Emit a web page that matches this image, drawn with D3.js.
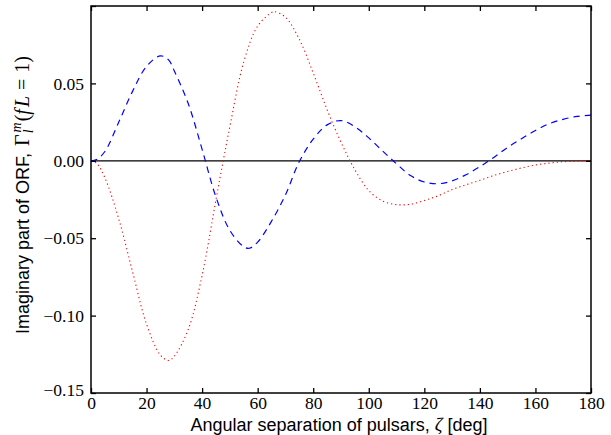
<!DOCTYPE html>
<html>
<head>
<meta charset="utf-8">
<script src="https://cdn.jsdelivr.net/npm/d3@7/dist/d3.min.js"></script>
<style>
  html, body { margin: 0; padding: 0; background: #fff; }
  svg { display: block; }
</style>
</head>
<body>
<svg id="chart" width="611" height="435"></svg>
<script>
// ---- data ----
const xTicks = [0, 20, 40, 60, 80, 100, 120, 140, 160, 180];
const yTicks = [-0.15, -0.10, -0.05, 0.00, 0.05, 0.10];
const yTickLabels = ["\u22120.15", "\u22120.10", "\u22120.05", "0.00", "0.05", ""];

const blueAngles = [0, 2, 5, 10, 15, 20, 25, 28, 30, 35, 40, 45, 50, 55, 57, 60, 65, 70, 75, 80, 85, 90,
  95, 100, 105, 110, 115, 120, 125, 130, 135, 140, 145, 150, 155, 160, 165, 170, 175, 180];
const blueValues = [0, 0.0008, 0.006, 0.025, 0.045, 0.061, 0.0678, 0.065, 0.058, 0.037, 0.0074, -0.0235,
  -0.045, -0.0555, -0.0565, -0.0525, -0.039, -0.022, -0.0005, 0.014, 0.0232, 0.026,
  0.022, 0.0148, 0.0063, -0.002, -0.0095, -0.0137, -0.0148, -0.013, -0.009, -0.0038, 0.0022,
  0.0087, 0.0143, 0.0196, 0.024, 0.0268, 0.0287, 0.0295];

const redAngles = [0, 2, 5, 10, 15, 20, 25, 28, 30, 35, 40, 45, 47.6, 50, 55, 60, 65, 66, 70, 75, 80, 85, 90,
  95, 100, 105, 110, 115, 120, 125, 130, 135, 140, 145, 150, 155, 160, 165, 170, 175, 180];
const redValues = [0, -0.0015, -0.011, -0.0376, -0.072, -0.1055, -0.1255, -0.129, -0.1262, -0.109, -0.074,
  -0.025, 0.0, 0.0222, 0.064, 0.087, 0.0958, 0.0963, 0.0928, 0.0785, 0.0567, 0.033, 0.012,
  -0.0058, -0.0192, -0.026, -0.0283, -0.0281, -0.0256, -0.0226, -0.0186, -0.0155, -0.0126,
  -0.0095, -0.0069, -0.0046, -0.0027, -0.0015, -0.0006, -0.0002, 0];

// ---- layout ----
const svg = d3.select("#chart");
const L = 91, R = 591, T = 6, B = 393;
const x = d3.scaleLinear().domain([0, 180]).range([L, R]);
const y = d3.scaleLinear().domain([-0.15, 0.10]).range([B, T]);

const serif = "'Liberation Serif', 'DejaVu Serif', serif";
const sans = "'Liberation Sans', Arial, sans-serif";

const line = d3.line().x(d => x(d[0])).y(d => y(d[1])).curve(d3.curveCatmullRom.alpha(0.5));

// zero line
svg.append("line")
  .attr("x1", x(0)).attr("x2", x(180))
  .attr("y1", y(0)).attr("y2", y(0))
  .attr("stroke", "#000").attr("stroke-width", 1.3);

// red dotted
svg.append("path")
  .datum(redAngles.map((a, i) => [a, redValues[i]]))
  .attr("d", line)
  .attr("fill", "none")
  .attr("stroke", "#ff0000")
  .attr("stroke-width", 1.1)
  .attr("stroke-dasharray", "1.2,3");

// blue dashed
svg.append("path")
  .datum(blueAngles.map((a, i) => [a, blueValues[i]]))
  .attr("d", line)
  .attr("fill", "none")
  .attr("stroke", "#0000ff")
  .attr("stroke-width", 1.2)
  .attr("stroke-dasharray", "6.5,5");

// axes (ticks inward)
const tickLen = 5;
const xb = d3.axisBottom(x).tickValues(xTicks).tickSizeInner(-tickLen).tickSizeOuter(0).tickPadding(4)
  .tickFormat(d3.format("d"));
const xt = d3.axisTop(x).tickValues(xTicks).tickSizeInner(-tickLen).tickSizeOuter(0).tickFormat("");
const yl = d3.axisLeft(y).tickValues(yTicks).tickSizeInner(-tickLen).tickSizeOuter(0).tickPadding(7)
  .tickFormat((d, i) => yTickLabels[i]);
const yr = d3.axisRight(y).tickValues(yTicks).tickSizeInner(-tickLen).tickSizeOuter(0).tickFormat("");

function style(g) {
  g.select(".domain").remove();
  g.selectAll(".tick line").attr("stroke", "#000").attr("stroke-width", 1.3);
  g.selectAll(".tick text").attr("fill", "#000").attr("font-family", serif).attr("font-size", 17.5);
}
svg.append("g").attr("transform", `translate(0,${B})`).call(xb).call(style);
svg.append("g").attr("transform", `translate(0,${T})`).call(xt).call(style);
const gyl = svg.append("g").attr("transform", `translate(${L},0)`).call(yl).call(style);
gyl.selectAll(".tick text").filter(d => d === -0.15).attr("dy", "0.12em");
svg.append("g").attr("transform", `translate(${R},0)`).call(yr).call(style);

// frame
svg.append("rect")
  .attr("x", L).attr("y", T).attr("width", R - L).attr("height", B - T)
  .attr("fill", "none").attr("stroke", "#000").attr("stroke-width", 1.5);

// x label
const xl = svg.append("text")
  .attr("x", (L + R) / 2 - 2).attr("y", 431)
  .attr("text-anchor", "middle")
  .attr("font-family", sans).attr("font-size", 18).attr("fill", "#000");
xl.append("tspan").text("Angular separation of pulsars, ");
xl.append("tspan").attr("font-family", serif).attr("font-style", "italic").attr("font-size", 19).text("\u03B6");
xl.append("tspan").text(" [deg]");

// y label
const ylab = svg.append("text")
  .attr("transform", `translate(29,195) rotate(-90)`)
  .attr("text-anchor", "middle")
  .attr("font-family", sans).attr("font-size", 18).attr("fill", "#000");
ylab.append("tspan").text("Imaginary part of ORF, ");
ylab.append("tspan").attr("font-family", serif).attr("font-size", 20).attr("dx", 2).text("\u0393");
ylab.append("tspan").attr("font-family", serif).attr("font-style", "italic").attr("font-size", 14).attr("dx", 1).attr("dy", 4).text("l");
ylab.append("tspan").attr("font-family", serif).attr("font-style", "italic").attr("font-size", 14).attr("dx", -3).attr("dy", -12).text("m");
ylab.append("tspan").attr("font-family", serif).attr("font-size", 20).attr("dy", 8).attr("dx", 1).text("(");
ylab.append("tspan").attr("font-family", serif).attr("font-style", "italic").attr("font-size", 20).text("f");
ylab.append("tspan").attr("font-family", serif).attr("font-style", "italic").attr("font-size", 20).attr("dx", 2).text("L");
ylab.append("tspan").attr("font-family", serif).attr("font-size", 20).attr("dx", 6).text("=");
ylab.append("tspan").attr("font-family", serif).attr("font-size", 20).attr("dx", 6).text("1)");
</script>
</body>
</html>
